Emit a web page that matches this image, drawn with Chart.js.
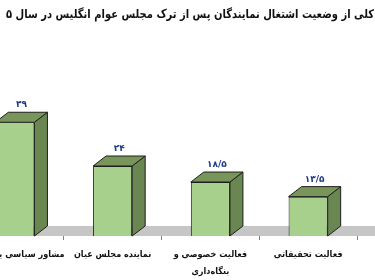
<!DOCTYPE html>
<html>
<head>
<meta charset="utf-8">
<script src="https://cdn.jsdelivr.net/npm/chart.js@4/dist/chart.umd.min.js"></script>
<style>
html,body{margin:0;padding:0;width:375px;height:280px;overflow:hidden;background:#fff;}
#wrap{position:absolute;left:-55px;top:0;width:490px;height:280px;}
</style>
</head>
<body>
<div id="wrap"><canvas id="c" width="490" height="280"></canvas></div>
<script>
const titleText = "کلی از وضعیت اشتغال نمایندگان پس از ترک مجلس عوام انگلیس در سال ۵";
const categories = [
  "\u00A0\u00A0\u00A0\u00A0\u00A0\u00A0\u00A0\u00A0\u00A0\u00A0\u00A0مشاور سیاسی یا",
  "نماینده مجلس عیان",
  ["فعالیت خصوصی و", "بنگاه‌داری"],
  "فعالیت تحقیقاتی"
];
const values = [39, 24, 18.5, 13.5];

const fa = s => String(s).replace(/\./g, "/").replace(/\d/g, d => "۰۱۲۳۴۵۶۷۸۹"[d]);
const DX = 13, DY = 10;

const bar3d = {
  id: "bar3d",
  beforeDatasetsDraw(chart) {
    const {ctx, chartArea} = chart;
    const b = chartArea.bottom;
    ctx.save();
    ctx.fillStyle = "#C6C6C6";
    ctx.beginPath();
    ctx.moveTo(chartArea.left, b);
    ctx.lineTo(chart.width, b);
    ctx.lineTo(chart.width, b - DY);
    ctx.lineTo(chartArea.left + DX, b - DY);
    ctx.closePath();
    ctx.fill();
    ctx.restore();
  },
  afterDatasetsDraw(chart) {
    const {ctx} = chart;
    const meta = chart.getDatasetMeta(0);
    ctx.save();
    ctx.strokeStyle = "#1e1e1e";
    ctx.lineWidth = 1;
    ctx.lineJoin = "round";
    meta.data.forEach((el, i) => {
      const p = el.getProps(["x", "y", "base", "width"], true);
      const l = p.x - p.width / 2, r = p.x + p.width / 2, t = p.y, bs = p.base;
      ctx.fillStyle = "#6B8751";
      ctx.beginPath();
      ctx.moveTo(r, t); ctx.lineTo(r + DX, t - DY); ctx.lineTo(r + DX, bs - DY); ctx.lineTo(r, bs);
      ctx.closePath(); ctx.fill(); ctx.stroke();
      ctx.fillStyle = "#789659";
      ctx.beginPath();
      ctx.moveTo(l, t); ctx.lineTo(l + DX, t - DY); ctx.lineTo(r + DX, t - DY); ctx.lineTo(r, t);
      ctx.closePath(); ctx.fill(); ctx.stroke();
      ctx.fillStyle = "#1F3A8A";
      ctx.font = "bold 9px 'DejaVu Sans'";
      ctx.textAlign = "center";
      ctx.textBaseline = "alphabetic";
      ctx.fillText(fa(values[i]), p.x + DX / 2, t - DY - 5);
    });
    ctx.restore();
  },
  afterDraw(chart) {
    const {ctx} = chart;
    ctx.save();
    ctx.fillStyle = "#111";
    ctx.font = "bold 12px 'DejaVu Sans'";
    ctx.textAlign = "center";
    ctx.textBaseline = "middle";
    ctx.fillText(titleText, chart.width / 2, 15, 368);
    ctx.restore();
  }
};

new Chart(document.getElementById("c"), {
  type: "bar",
  data: {
    labels: categories,
    datasets: [{
      data: values,
      backgroundColor: "#A8D08D",
      borderColor: "#1e1e1e",
      borderWidth: 1,
      barPercentage: 0.4,
      categoryPercentage: 1
    }]
  },
  options: {
    responsive: false,
    animation: false,
    devicePixelRatio: 1,
    layout: {padding: {left: 21, right: 78, top: 61, bottom: 0}},
    plugins: {
      legend: {display: false},
      tooltip: {enabled: false},
      title: {display: false}
    },
    scales: {
      x: {
        afterFit: s => { s.height = 44; },
        border: {display: false},
        grid: {display: true, offset: true, drawOnChartArea: false, drawTicks: true, tickLength: 4, color: "#808080"},
        ticks: {color: "#111", padding: 6, maxRotation: 0, autoSkip: false,
          font: {family: "'DejaVu Sans Condensed', 'DejaVu Sans'", size: 9, weight: "bold", lineHeight: 1.9}}
      },
      y: {display: false, min: 0, max: 60}
    }
  },
  plugins: [bar3d]
});
</script>
</body>
</html>
